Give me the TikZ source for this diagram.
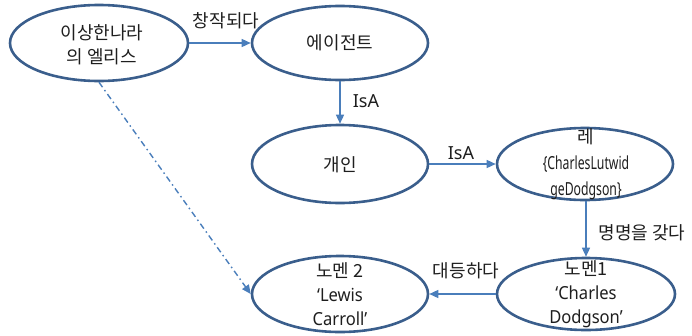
\documentclass[tikz,border=0pt]{standalone}
\usepackage{fontspec}
\usepackage{graphicx}
\setmainfont{Noto Sans CJK KR}
\newfontfamily\latfont{Noto Sans}
\usetikzlibrary{arrows.meta,shapes.geometric}
\definecolor{ellblue}{RGB}{58,94,140}
\definecolor{arrblue}{RGB}{74,126,187}
\definecolor{txt}{RGB}{30,30,30}
\tikzset{
  ell/.style={draw=ellblue, line width=2.6pt, ellipse, inner sep=0pt,
    minimum width=176pt, minimum height=74pt},
  lbl/.style={text=txt, font=\fontsize{18}{24}\selectfont, align=center, inner sep=0pt},
  conn/.style={draw=arrblue, line width=1.4pt, -{Triangle[length=9pt,width=8pt]}},
  dashconn/.style={conn, dash pattern=on 6pt off 3.5pt on 1.5pt off 3.5pt}
}
\begin{document}
\begin{tikzpicture}[x=1pt,y=-1pt]
\useasboundingbox (0,0) rectangle (692,335);
% ellipses
\node[ell, minimum width=178pt, minimum height=76pt] (A) at (99,43) {};
\node[ell] (B) at (340,43) {};
\node[ell, minimum height=78pt] (C) at (340,164) {};
\node[ell, minimum height=72pt] (D) at (585,164) {};
\node[ell, minimum width=178pt, minimum height=72pt] (E) at (586,294) {};
\node[ell, minimum height=76pt] (F) at (340,294) {};
% texts
\node[lbl] (tA) at (102,45) {이상한나라\\의 엘리스};
\node[lbl] (tB) at (340,43) {에이전트};
\node[lbl] (tC) at (340,165) {개인};
\node[lbl, font=\fontsize{18}{26}\selectfont] (tD) at (586,164) {레\\\scalebox{0.68}[1]{\latfont\{CharlesLutwid}\\\scalebox{0.68}[1]{\latfont geDodgson\}}};
\node[lbl] (tE) at (586,294) {노멘1\\{\latfont\scalebox{0.92}[1]{‘Charles}}\\{\latfont\scalebox{0.92}[1]{Dodgson’}}};
\node[lbl] (tF) at (340,294) {노멘 2\\{\latfont\scalebox{0.92}[1]{‘Lewis}}\\{\latfont\scalebox{0.92}[1]{Carroll’}}};
% connectors
\draw[conn] (A.east) -- (B.west);
\draw[conn] (B.south) -- (C.north);
\draw[conn] (C.east) -- (D.west);
\draw[conn] (D.south -| E.north) -- (E.north);
\draw[conn] (E.west) -- (F.east);
\draw[dashconn] (A.south) -- (F.west);
% edge labels
\node[lbl] (l1) at (226,21) {창작되다};
\node[lbl] (l2) at (366,101) {\latfont IsA};
\node[lbl] (l3) at (461,153) {\latfont IsA};
\node[lbl] (l4) at (642,233) {명명을 갖다};
\node[lbl] (l5) at (466,271) {대등하다};
\end{tikzpicture}
\end{document}
